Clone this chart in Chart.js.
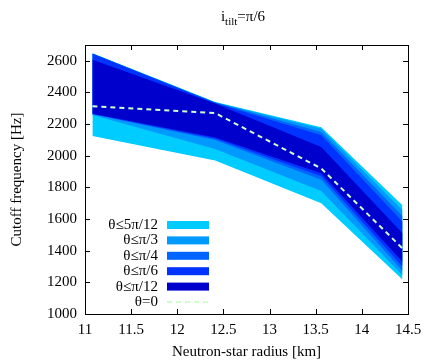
<!DOCTYPE html>
<html>
<head>
<meta charset="utf-8">
<script src="https://cdn.jsdelivr.net/npm/chart.js@4/dist/chart.umd.min.js"></script>
<style>
  html, body { margin: 0; padding: 0; background: #fff; }
  #wrap { position: relative; width: 436px; height: 363px; }
  #title { position: absolute; top: 8px; left: 0; width: 436px; padding-left: 50px; box-sizing: border-box;
           text-align: center; font: 15px "Liberation Serif", serif; color: #000; }
  #title sub { font-size: 11px; }
</style>
</head>
<body>
<div id="wrap">
  <div id="title">i<sub>tilt</sub>=π/6</div>
  <canvas id="cutoff" width="436" height="363"></canvas>
</div>
<script>
// neutron-star radii [km]
const radii = [11.08, 12.41, 13.56, 14.44];

// band limits [Hz], one upper/lower pair per tilt bound
const upper5pi12 = [2648, 2340, 2180, 1688];
const lower5pi12 = [2125, 1970, 1700, 1218];
const upperPi3 = [2647, 2338, 2170, 1655];
const lowerPi3 = [2258, 2042, 1778, 1245];
const upperPi4 = [2646, 2336, 2150, 1620];
const lowerPi4 = [2262, 2100, 1848, 1272];
const upperPi6 = [2645, 2334, 2130, 1583];
const lowerPi6 = [2264, 2108, 1870, 1300];
const upperPi12 = [2606, 2330, 2055, 1510];
const lowerPi12 = [2266, 2115, 1889, 1330];
const theta0 = [2313, 2270, 1920, 1415];

const xTicks = [11, 11.5, 12, 12.5, 13, 13.5, 14, 14.5];
const yTicks = [1000, 1200, 1400, 1600, 1800, 2000, 2200, 2400, 2600];

const bandNames = ['θ≤π/12', 'θ≤π/6', 'θ≤π/4', 'θ≤π/3', 'θ≤5π/12'];
const bandColors = ['#0000cc', '#0033ff', '#0066ff', '#0099ff', '#00ccff'];
const bandUpper = [upperPi12, upperPi6, upperPi4, upperPi3, upper5pi12];
const bandLower = [lowerPi12, lowerPi6, lowerPi4, lowerPi3, lower5pi12];

const pts = arr => arr.map((v, i) => ({x: radii[i], y: v}));

const datasets = [{
  label: 'θ=0',
  data: pts(theta0),
  borderColor: '#ccffcc',
  borderWidth: 2,
  borderDash: [5, 4],
  pointRadius: 0,
  fill: false
}];
bandNames.forEach(function(name, k){
  datasets.push({
    label: name,
    data: pts(bandUpper[k]),
    borderWidth: 0,
    borderColor: bandColors[k],
    backgroundColor: bandColors[k],
    pointRadius: 0,
    fill: '+1'
  });
  datasets.push({
    label: '',
    data: pts(bandLower[k]),
    borderWidth: 0,
    pointRadius: 0,
    fill: false
  });
});

const serif = '"Liberation Serif", serif';

// box with inward ticks on all sides, gnuplot style
const frame = {
  id: 'frame',
  afterDraw(chart){
    const ctx = chart.ctx, a = chart.chartArea;
    const xs = chart.scales.x, ys = chart.scales.y;
    ctx.save();
    ctx.strokeStyle = '#000';
    ctx.lineWidth = 1;
    ctx.strokeRect(a.left + 0.5, a.top + 0.5, a.right - a.left, a.bottom - a.top);
    ctx.beginPath();
    xTicks.forEach(function(t){
      const px = Math.round(xs.getPixelForValue(t)) + 0.5;
      ctx.moveTo(px, a.bottom); ctx.lineTo(px, a.bottom - 5);
      ctx.moveTo(px, a.top); ctx.lineTo(px, a.top + 5);
    });
    yTicks.forEach(function(t){
      const py = Math.round(ys.getPixelForValue(t)) + 0.5;
      ctx.moveTo(a.left, py); ctx.lineTo(a.left + 5, py);
      ctx.moveTo(a.right, py); ctx.lineTo(a.right - 5, py);
    });
    ctx.stroke();

    // legend inside the plot, bottom left
    const entries = bandNames.slice().reverse().map(function(n, i){
      return {text: n, color: bandColors[bandColors.length - 1 - i]};
    });
    entries.push({text: 'θ=0', dash: true});
    ctx.font = '15px ' + serif;
    ctx.textAlign = 'right';
    ctx.textBaseline = 'middle';
    ctx.fillStyle = '#000';
    const textRight = a.left + 73, sw0 = a.left + 82, sw1 = a.left + 124;
    entries.forEach(function(e, i){
      const y = a.bottom - 12 - (entries.length - 1 - i) * 15.4;
      ctx.fillText(e.text, textRight, y);
      if (e.dash) {
        ctx.strokeStyle = '#ccffcc';
        ctx.lineWidth = 2;
        ctx.setLineDash([5, 4]);
        ctx.beginPath(); ctx.moveTo(sw0, y); ctx.lineTo(sw1, y); ctx.stroke();
        ctx.setLineDash([]);
      } else {
        ctx.fillStyle = e.color;
        ctx.fillRect(sw0, y - 4, sw1 - sw0, 8);
        ctx.fillStyle = '#000';
      }
    });
    ctx.restore();
  }
};

new Chart(document.getElementById('cutoff'), {
  type: 'line',
  data: {datasets: datasets},
  options: {
    responsive: false,
    animation: false,
    layout: {padding: {top: 45, right: 28, left: 8, bottom: 0}},
    elements: {line: {tension: 0}},
    plugins: {
      legend: {display: false},
      tooltip: {enabled: false},
      filler: {propagate: false}
    },
    scales: {
      x: {
        type: 'linear',
        min: 11, max: 14.5,
        afterBuildTicks: s => { s.ticks = xTicks.map(v => ({value: v})); },
        afterFit: s => { s.height = 49; },
        grid: {display: false, drawTicks: false},
        border: {display: false},
        ticks: {color: '#000', padding: 7, font: {family: serif, size: 15},
                callback: v => String(v)},
        title: {display: true, text: 'Neutron-star radius [km]', color: '#000',
                font: {family: serif, size: 15}, padding: {top: 2, bottom: 2}}
      },
      y: {
        min: 1000, max: 2700,
        afterBuildTicks: s => { s.ticks = yTicks.map(v => ({value: v})); },
        afterFit: s => { s.width = 77; },
        grid: {display: false, drawTicks: false},
        border: {display: false},
        ticks: {color: '#000', padding: 8, font: {family: serif, size: 15},
                callback: v => String(v)},
        title: {display: true, text: 'Cutoff frequency [Hz]', color: '#000',
                font: {family: serif, size: 15}, padding: {top: 0, bottom: 4}}
      }
    }
  },
  plugins: [frame]
});
</script>
</body>
</html>
